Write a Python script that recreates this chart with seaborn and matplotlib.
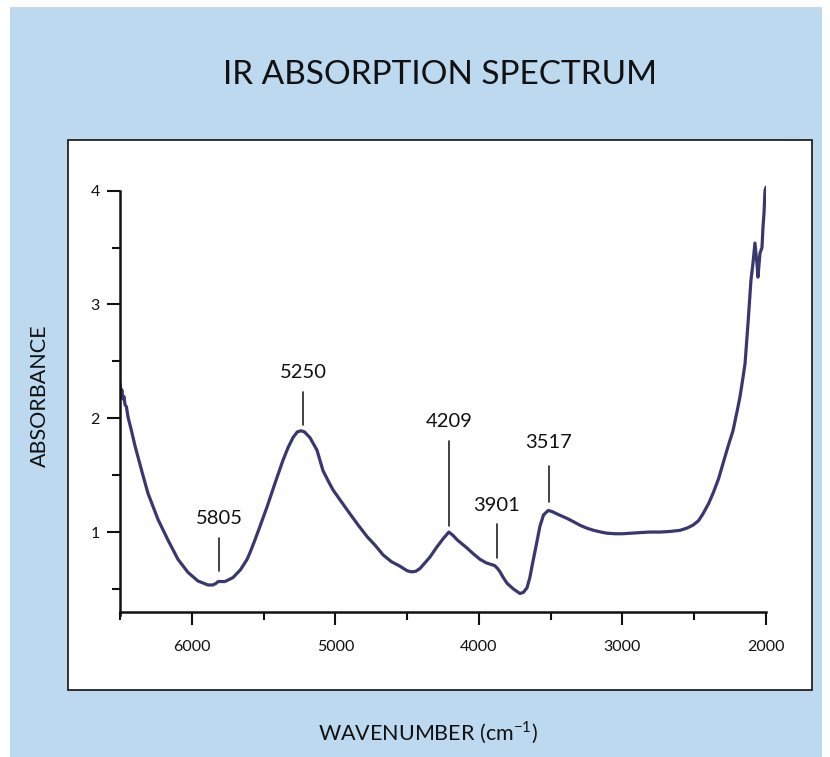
import numpy as np
import pandas as pd
import matplotlib.pyplot as plt
import seaborn as sns
from matplotlib.patches import Rectangle
from matplotlib.ticker import MultipleLocator

# Spectrum values (wavenumber in cm-1, absorbance)
wavenumber = [6500, 6493, 6487, 6480, 6472, 6465, 6455, 6444, 6420, 6396,
              6347, 6305, 6235, 6166, 6096, 6026, 5957, 5887, 5852, 5830,
              5817, 5800, 5769, 5713, 5660, 5615, 5594, 5560, 5525, 5476,
              5420, 5365, 5330, 5295, 5265, 5240, 5215, 5177, 5128, 5086,
              5050, 5016, 4960, 4898, 4840, 4779, 4720, 4668, 4610, 4550,
              4500, 4470, 4440, 4410, 4341, 4292, 4250, 4209, 4180, 4150,
              4083, 4040, 3992, 3950, 3915, 3890, 3870, 3853, 3830, 3804,
              3760, 3714, 3690, 3665, 3645, 3630, 3595, 3575, 3550, 3517,
              3490, 3440, 3386, 3340, 3296, 3250, 3200, 3150, 3108, 3050,
              3000, 2940, 2878, 2810, 2739, 2670, 2599, 2550, 2509, 2470,
              2439, 2400, 2369, 2330, 2300, 2265, 2230, 2200, 2181, 2160,
              2146, 2125, 2105, 2091, 2077, 2063, 2056, 2042, 2028, 2021,
              2014, 2007, 2000]
absorbance = [2.30, 2.22, 2.25, 2.17, 2.19, 2.12, 2.10, 2.01, 1.89, 1.76,
              1.53, 1.34, 1.11, 0.93, 0.76, 0.645, 0.57, 0.535, 0.535, 0.55,
              0.565, 0.565, 0.565, 0.60, 0.67, 0.76, 0.82, 0.93, 1.05, 1.22,
              1.43, 1.63, 1.74, 1.83, 1.88, 1.89, 1.88, 1.83, 1.72, 1.54,
              1.45, 1.37, 1.27, 1.16, 1.06, 0.96, 0.88, 0.80, 0.74, 0.70,
              0.66, 0.65, 0.655, 0.68, 0.78, 0.87, 0.94, 1.00, 0.97, 0.93,
              0.86, 0.81, 0.76, 0.73, 0.715, 0.705, 0.68, 0.65, 0.60, 0.55,
              0.50, 0.46, 0.47, 0.51, 0.60, 0.70, 0.92, 1.05, 1.15, 1.19,
              1.18, 1.15, 1.12, 1.09, 1.06, 1.035, 1.015, 1.00, 0.99, 0.985,
              0.985, 0.99, 0.995, 1.00, 1.00, 1.005, 1.015, 1.035, 1.06, 1.10,
              1.16, 1.25, 1.34, 1.47, 1.60, 1.75, 1.89, 2.07, 2.19, 2.36,
              2.48, 2.84, 3.21, 3.36, 3.54, 3.36, 3.24, 3.45, 3.50, 3.68,
              3.80, 4.00, 4.03]

# Peak labels: label, x of marker, y range of marker line, y of text
peak_labels = ["5805", "5250", "4209", "3901", "3517"]
peak_x = [5810, 5225, 4208, 3874, 3512]
line_lo = [0.66, 1.94, 1.05, 0.77, 1.26]
line_hi = [0.95, 2.23, 1.80, 1.07, 1.58]
text_y = [1.12, 2.40, 1.97, 1.23, 1.79]

df = pd.DataFrame({"wavenumber": wavenumber, "absorbance": absorbance})

sns.set_theme(style="ticks")
plt.rcParams['font.family'] = ['Lato', 'DejaVu Sans']
plt.rcParams['mathtext.fontset'] = 'custom'
plt.rcParams['mathtext.rm'] = 'Lato'

fig = plt.figure(figsize=(8.3, 7.57), dpi=100)
fig.patch.set_facecolor("white")

# Light blue panel and white inner box (pixel coords converted to figure fraction)
W, H = 830, 757
fig.patches.append(Rectangle((10 / W, 0), 812 / W, 750 / H, transform=fig.transFigure,
                             facecolor="#bcd9f0", edgecolor="none", zorder=-2))
fig.patches.append(Rectangle((68 / W, 1 - 690 / H), 744 / W, 550 / H, transform=fig.transFigure,
                             facecolor="white", edgecolor="#222222", linewidth=1.3, zorder=-1))

ax = fig.add_axes([120 / W, 1 - 611.7 / H, 646 / W, (611.7 - 185) / H])
ax.set_facecolor("none")

sns.lineplot(data=df, x="wavenumber", y="absorbance", ax=ax, color="#38386e",
             linewidth=2.3, sort=False)

# Vertical marker lines and labels
for lab, px, lo, hi, ty in zip(peak_labels, peak_x, line_lo, line_hi, text_y):
    ax.plot([px, px], [lo, hi], color="#222222", linewidth=1.2)
    ax.text(px, ty, lab, ha="center", va="center", fontsize=14.5, color="#111111")

ax.set_xlim(6500, 2000)
ax.set_ylim(0.3, 4.05)
ax.xaxis.set_major_locator(MultipleLocator(1000))
ax.xaxis.set_minor_locator(MultipleLocator(500))
ax.set_yticks([1, 2, 3, 4])
ax.yaxis.set_minor_locator(MultipleLocator(0.5))
ax.set_xticklabels(["%d" % v for v in ax.get_xticks()])

sns.despine(ax=ax)
ax.spines["left"].set_bounds(0.27, 4)
for s in ["left", "bottom"]:
    ax.spines[s].set_linewidth(1.8)
    ax.spines[s].set_color("#111111")

ax.tick_params(axis="both", which="major", length=9.5, width=1.5, color="#111111",
               labelsize=11.5, labelcolor="#111111")
ax.tick_params(axis="both", which="minor", length=5.5, width=1.5, color="#111111")
ax.tick_params(axis="x", which="major", pad=11)
ax.tick_params(axis="y", which="major", pad=5)
ax.set_xlabel("")
ax.set_ylabel("")

# Title and axis labels sit outside the white box
fig.text(440 / W, 1 - 75 / H, "IR ABSORPTION SPECTRUM", ha="center", va="center",
         fontsize=24, color="#111111")
fig.text(428 / W, 1 - 733 / H, "WAVENUMBER (cm$^{-1}$)", ha="center", va="center",
         fontsize=15.5, color="#111111")
fig.text(40 / W, 1 - 396 / H, "ABSORBANCE", ha="center", va="center", rotation=90,
         fontsize=15.5, color="#111111")

plt.savefig("out.png", dpi=100)
plt.close()
